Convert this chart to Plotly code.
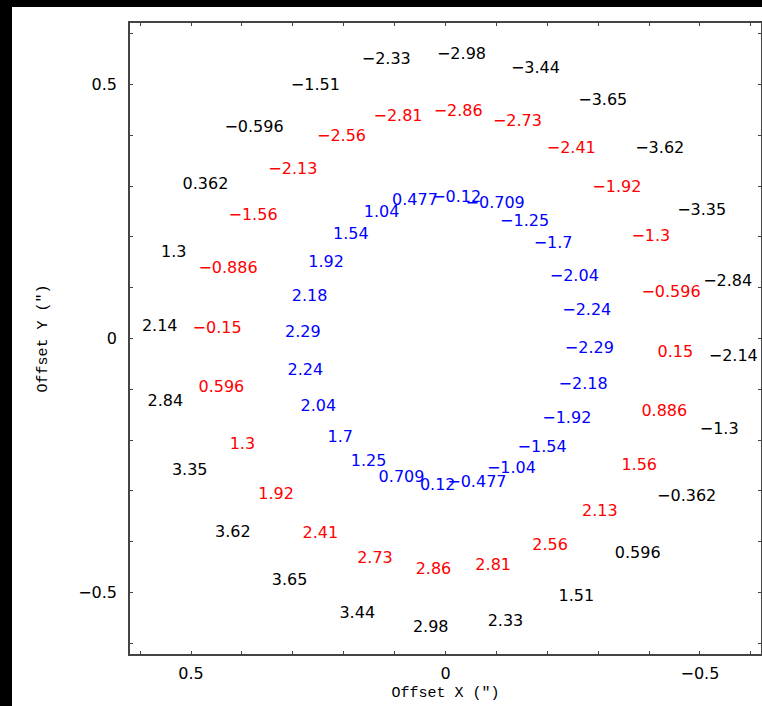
import plotly.graph_objects as go

MINUS = "\u2212"

# Outer ring (black): label values and their sky offsets (arcsec)
outer_vals = ["-2.98", "-3.44", "-3.65", "-3.62", "-3.35", "-2.84", "-2.14", "-1.3",
              "-0.362", "0.596", "1.51", "2.33", "2.98", "3.44", "3.65", "3.62",
              "3.35", "2.84", "2.14", "1.3", "0.362", "-0.596", "-1.51", "-2.33"]
outer_x = [-0.0314, -0.1767, -0.3091, -0.4210, -0.5034, -0.5545, -0.5655, -0.5378,
           -0.4740, -0.3778, -0.2570, -0.1178, 0.0291, 0.1734, 0.3065, 0.4178,
           0.5027, 0.5504, 0.5616, 0.5341, 0.4718, 0.3762, 0.2558, 0.1164]
outer_y = [0.5584, 0.5300, 0.4678, 0.3725, 0.2513, 0.1115, -0.0355, -0.1806,
           -0.3117, -0.4247, -0.5086, -0.5578, -0.5690, -0.5428, -0.4771, -0.3820,
           -0.2605, -0.1241, 0.0235, 0.1692, 0.3017, 0.4139, 0.4979, 0.5477]

# Middle ring (red)
middle_vals = ["-2.86", "-2.73", "-2.41", "-1.92", "-1.3", "-0.596", "0.15", "0.886",
               "1.56", "2.13", "2.56", "2.81", "2.86", "2.73", "2.41", "1.92",
               "1.3", "0.596", "-0.15", "-0.886", "-1.56", "-2.13", "-2.56", "-2.81"]
middle_x = [-0.0249, -0.1414, -0.2472, -0.3367, -0.4035, -0.4432, -0.4516, -0.4300,
            -0.3807, -0.3032, -0.2056, -0.0937, 0.0236, 0.1386, 0.2460, 0.3328,
            0.3992, 0.4404, 0.4488, 0.4273, 0.3782, 0.3000, 0.2044, 0.0933]
middle_y = [0.4462, 0.4265, 0.3725, 0.2971, 0.2001, 0.0891, -0.0290, -0.1444,
            -0.2507, -0.3406, -0.4082, -0.4475, -0.4554, -0.4345, -0.3840, -0.3078,
            -0.2101, -0.0979, 0.0196, 0.1363, 0.2414, 0.3320, 0.3975, 0.4363]

# Inner ring (blue)
inner_vals = ["-0.12", "-0.709", "-1.25", "-1.7", "-2.04", "-2.24", "-2.29", "-2.18",
              "-1.92", "-1.54", "-1.04", "-0.477", "0.12", "0.709", "1.25", "1.7",
              "2.04", "2.24", "2.29", "2.18", "1.92", "1.54", "1.04", "0.477"]
inner_x = [-0.0220, -0.0976, -0.1555, -0.2115, -0.2531, -0.2776, -0.2827, -0.2704,
           -0.2384, -0.1899, -0.1296, -0.0617, 0.0153, 0.0864, 0.1512, 0.2068,
           0.2500, 0.2755, 0.2804, 0.2670, 0.2346, 0.1861, 0.1257, 0.0601]
inner_y = [0.2775, 0.2643, 0.2302, 0.1855, 0.1220, 0.0536, -0.0212, -0.0920,
           -0.1590, -0.2160, -0.2574, -0.2836, -0.2901, -0.2751, -0.2422, -0.1950,
           -0.1340, -0.0637, 0.0103, 0.0826, 0.1495, 0.2046, 0.2466, 0.2716]

tick_vals = [-0.6, -0.5, -0.4, -0.3, -0.2, -0.1, 0.0, 0.1, 0.2, 0.3, 0.4, 0.5, 0.6]
tick_text = ["", "-0.5", "", "", "", "", "0", "", "", "", "", "0.5", ""]


def fmt(labels):
    return [s.replace("-", MINUS) for s in labels]


LABEL_FONT = "DejaVu Sans"

fig = go.Figure()
for xs, ys, vals, col in [(outer_x, outer_y, outer_vals, "#000000"),
                          (middle_x, middle_y, middle_vals, "#ff0000"),
                          (inner_x, inner_y, inner_vals, "#0000ff")]:
    fig.add_trace(go.Scatter(
        x=xs, y=ys, text=fmt(vals), mode="text",
        textposition="middle center",
        textfont=dict(family=LABEL_FONT, size=16, color=col),
        hoverinfo="skip", showlegend=False,
    ))

axis_common = dict(
    tickmode="array", tickvals=tick_vals, ticktext=fmt(tick_text),
    ticks="inside", ticklen=3, tickwidth=1, tickcolor="#444444",
    showline=True, linecolor="#444444", linewidth=1.5, mirror="ticks",
    showgrid=False, zeroline=False,
    tickfont=dict(family=LABEL_FONT, size=16, color="#000000"),
)

fig.update_xaxes(range=[0.62, -0.62], ticklabelstandoff=4,
                 title=dict(text="Offset X (\u2033)", standoff=5,
                            font=dict(family="Liberation Mono", size=15, color="#000000")),
                 **axis_common)
fig.update_yaxes(range=[-0.621, 0.621], ticklabelstandoff=8,
                 title=dict(text="Offset Y (\u2033)", standoff=27,
                            font=dict(family="Liberation Mono", size=15, color="#000000")),
                 **axis_common)

W, H = 762, 706
L, R, T, B = 130, 1, 23, 52
pw, ph = W - L - R, H - T - B

# dark frame strips along the top and left edges of the page
fig.add_shape(type="rect", xref="paper", yref="paper", layer="above",
              x0=-L / pw, x1=1 + (R + 2) / pw, y0=1 + (T - 7) / ph, y1=1 + (T + 2) / ph,
              fillcolor="#000000", line=dict(width=0))
fig.add_shape(type="rect", xref="paper", yref="paper", layer="above",
              x0=-(L + 2) / pw, x1=-(L - 12) / pw, y0=-(B + 2) / ph, y1=1 + (T + 2) / ph,
              fillcolor="#000000", line=dict(width=0))

fig.update_layout(
    width=W, height=H,
    margin=dict(l=L, r=R, t=T, b=B, autoexpand=False),
    paper_bgcolor="#ffffff", plot_bgcolor="#ffffff",
    showlegend=False,
)

fig.write_html("out.html")
